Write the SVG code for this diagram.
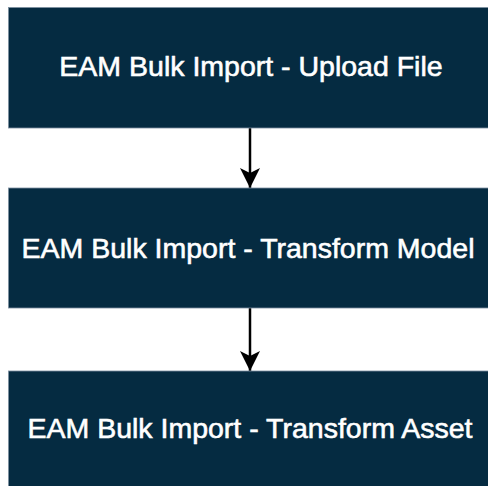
<svg xmlns="http://www.w3.org/2000/svg" width="488" height="486" viewBox="0 0 488 486">
<defs>
<style>
.box{fill:#052b41;stroke:#7d8fa0;stroke-width:0.8}
.lbl{fill:#ffffff;stroke:#ffffff;stroke-width:0.6;font-family:"Liberation Sans",Arial,sans-serif;font-size:28.5px;text-anchor:middle}
.conn{stroke:#000;stroke-width:2.5;fill:none}
</style>
<marker id="arr" viewBox="0 0 20 20" refX="20" refY="10" markerWidth="20" markerHeight="20" markerUnits="userSpaceOnUse" orient="auto">
<path d="M0,0 L20,10 L0,20 L5,10 Z" fill="#000"/>
</marker>
</defs>
<rect width="488" height="486" fill="#ffffff"/>
<g id="connectors">
<line class="conn" x1="250" y1="128" x2="250" y2="188" marker-end="url(#arr)"/>
<line class="conn" x1="250" y1="308" x2="250" y2="371" marker-end="url(#arr)"/>
</g>
<g id="node1">
<rect class="box" x="8.5" y="7.5" width="482" height="120.5"/>
<text class="lbl" x="251" y="76">EAM Bulk Import - Upload File</text>
</g>
<g id="node2">
<rect class="box" x="8.5" y="188" width="482" height="120"/>
<text class="lbl" x="248" y="258">EAM Bulk Import - Transform Model</text>
</g>
<g id="node3">
<rect class="box" x="8.5" y="371" width="482" height="120"/>
<text class="lbl" x="250" y="438">EAM Bulk Import - Transform Asset</text>
</g>
</svg>
